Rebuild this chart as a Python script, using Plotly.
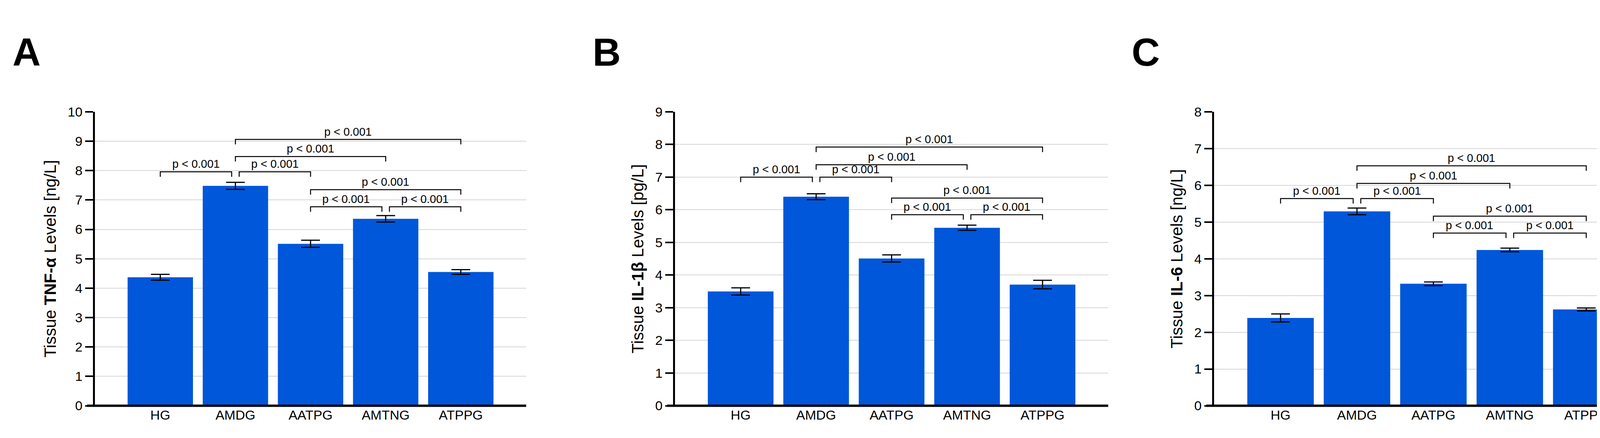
import plotly.graph_objects as go

groups = ["HG", "AMDG", "AATPG", "AMTNG", "ATPPG"]

tnf_mean = [4.37, 7.48, 5.51, 6.36, 4.55]
tnf_err = [0.10, 0.12, 0.12, 0.11, 0.08]
il1b_mean = [3.50, 6.40, 4.51, 5.45, 3.71]
il1b_err = [0.11, 0.09, 0.11, 0.08, 0.13]
il6_mean = [2.39, 5.29, 3.32, 4.24, 2.62]
il6_err = [0.11, 0.09, 0.05, 0.05, 0.04]

# (from group, to group, bracket height)
tnf_brackets = [(0, 1, 7.96), (1, 2, 7.96), (1, 3, 8.48), (1, 4, 9.06),
                (2, 4, 7.35), (2, 3, 6.77), (3, 4, 6.77)]
il1b_brackets = [(0, 1, 7.0), (1, 2, 7.0), (1, 3, 7.38), (1, 4, 7.92),
                 (2, 4, 6.36), (2, 3, 5.85), (3, 4, 5.85)]
il6_brackets = [(0, 1, 5.64), (1, 2, 5.64), (1, 3, 6.05), (1, 4, 6.53),
                (2, 4, 5.16), (2, 3, 4.70), (3, 4, 4.70)]
p_label = "p < 0.001"

panels = [
    ("A", "Tissue <b>TNF-α</b> Levels [ng/L]", tnf_mean, tnf_err, tnf_brackets, 10, 235, 1339),
    ("B", "Tissue <b>IL-1β</b> Levels [pg/L]", il1b_mean, il1b_err, il1b_brackets, 9, 1720, 2829),
    ("C", "Tissue <b>IL-6</b> Levels [ng/L]", il6_mean, il6_err, il6_brackets, 8, 3100, 4223),
]

W, H = 4328, 1120
y_top, y_bot = 268, 1046
blue = "#0057d9"
narrow = "Liberation Sans Narrow, Arial Narrow, Liberation Sans, sans-serif"

fig = go.Figure()
layout = dict(width=W, height=H, margin=dict(l=0, r=0, t=0, b=0),
              plot_bgcolor="white", paper_bgcolor="white", showlegend=False)
annotations = []

for k, (letter, title, mean, err, brackets, ymax, x0, x1) in enumerate(panels):
    n = "" if k == 0 else str(k + 1)
    xa, ya = "x" + n, "y" + n
    fig.add_trace(go.Bar(x=list(range(len(groups))), y=mean, width=0.87,
                         marker=dict(color=blue, line=dict(width=0)),
                         error_y=dict(type="data", array=err, color="black",
                                      thickness=3, width=24),
                         xaxis=xa, yaxis=ya))
    leg = ymax * 0.017
    for i, j, h in brackets:
        # small gaps where two brackets meet at the same height
        touch = [(a, b) for a, b, hh in brackets if hh == h and (a, b) != (i, j)]
        xl = i + (0.05 if any(b == i for a, b in touch) else 0)
        xr = j - (0.05 if any(a == j for a, b in touch) else 0)
        fig.add_trace(go.Scatter(x=[xl, xl, xr, xr], y=[h - leg, h, h, h - leg],
                                 mode="lines", line=dict(color="black", width=2.5),
                                 hoverinfo="skip", xaxis=xa, yaxis=ya))
        annotations.append(dict(x=(xl + xr) / 2, y=h, xref=xa, yref=ya, text=p_label,
                                showarrow=False, yanchor="bottom", yshift=2,
                                font=dict(family=narrow, size=29, color="black")))
    annotations.append(dict(x=(x0 - 213) / W, y=1 - 50 / H, xref="paper", yref="paper",
                            text="<b>" + letter + "</b>", showarrow=False,
                            xanchor="left", yanchor="top",
                            font=dict(family="Liberation Sans, Arial", size=100, color="black")))
    layout["xaxis" + n] = dict(domain=[x0 / W, x1 / W], anchor=ya, range=[-0.87, 4.87],
                               tickvals=list(range(len(groups))), ticktext=groups,
                               showgrid=False, zeroline=False, showline=False, ticks="",
                               tickfont=dict(family=narrow, size=34, color="black"))
    layout["yaxis" + n] = dict(domain=[1 - y_bot / H, 1 - y_top / H], anchor=xa,
                               range=[0, ymax], dtick=1, showgrid=True,
                               gridcolor="#d6d6d6", gridwidth=2, zeroline=False,
                               showline=True, linecolor="black", linewidth=5,
                               ticks="outside", ticklen=20, tickwidth=4, tickcolor="black",
                               tickfont=dict(family=narrow, size=34, color="black"),
                               title=dict(text=title, standoff=18,
                                          font=dict(family="Liberation Sans, Arial", size=42, color="black")))
    fig.add_shape(type="line", xref="paper", yref="paper", x0=(x0 - 20) / W, x1=x1 / W,
                  y0=1 - y_bot / H, y1=1 - y_bot / H, line=dict(color="black", width=6))

layout["annotations"] = annotations
fig.update_layout(**layout)
fig.write_html("out.html")
